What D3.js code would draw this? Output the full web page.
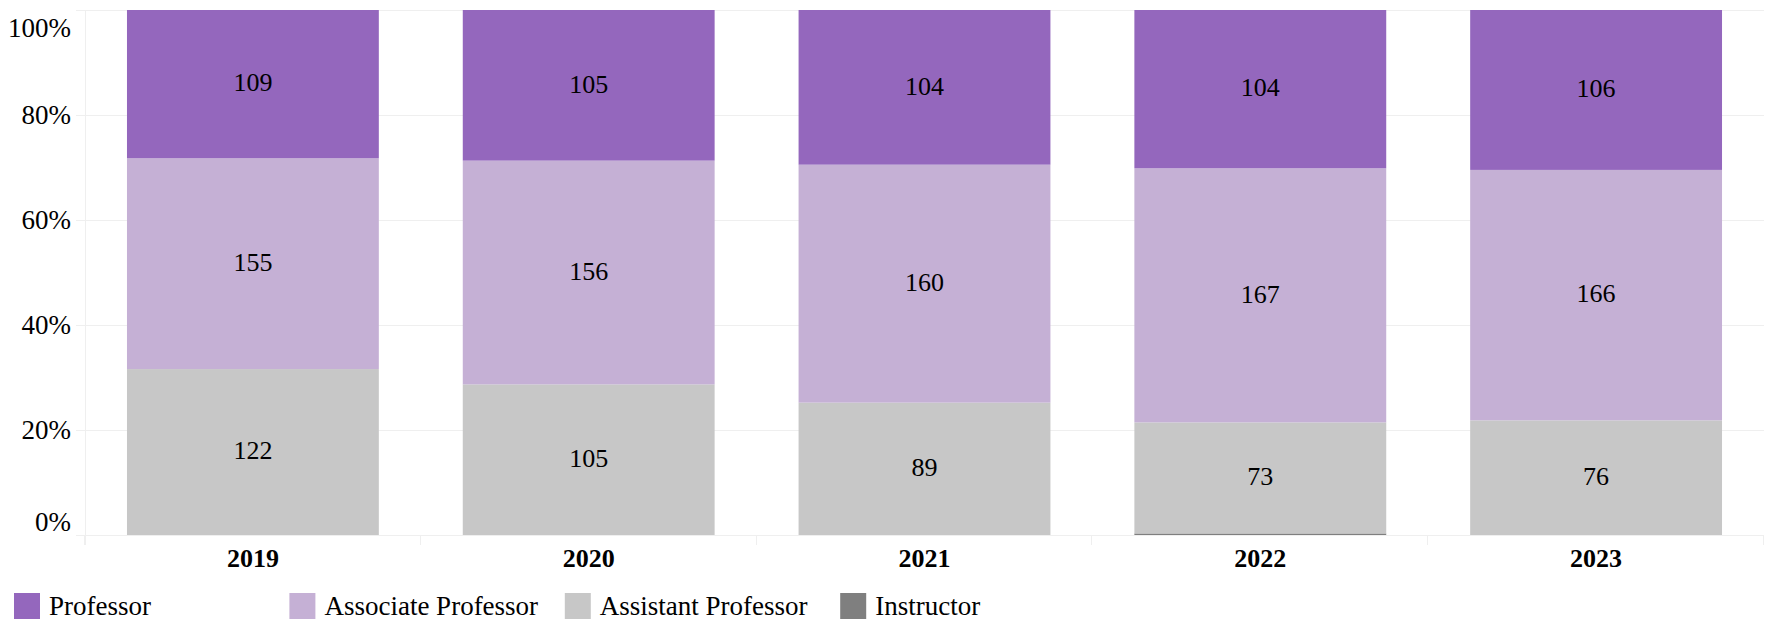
<!DOCTYPE html>
<html>
<head>
<meta charset="utf-8">
<style>
  body { margin: 0; background: #fff; }
  text { font-family: 'Liberation Serif', 'Times New Roman', serif; fill: #000; }
  .grid line { stroke: #efefef; }
</style>
</head>
<body>
<script src="https://d3js.org/d3.v7.min.js"></script>
<script>

var years = ['2019', '2020', '2021', '2022', '2023'];
var ranks = ['Professor', 'Associate Professor', 'Assistant Professor', 'Instructor'];
var professor = [109, 105, 104, 104, 106];
var associate = [155, 156, 160, 167, 166];
var assistant = [122, 105, 89, 73, 76];
var instructor = [0, 0, 0, 1, 0];
var colors = ['#9467bd', '#c5b0d5', '#c7c7c7', '#7f7f7f'];
var yTicks = [0, 0.2, 0.4, 0.6, 0.8, 1];

var width = 1769, height = 620;
var plotLeft = 85, plotRight = 1764, plotTop = 10, plotBottom = 535;

// stack order bottom -> top
var rows = years.map(function (yr, i) {
  return { year: yr, 'Professor': professor[i], 'Associate Professor': associate[i],
    'Assistant Professor': assistant[i], 'Instructor': instructor[i] };
});
var stackKeys = ['Instructor', 'Assistant Professor', 'Associate Professor', 'Professor'];
var series = d3.stack().keys(stackKeys).offset(d3.stackOffsetExpand)(rows);

var color = d3.scaleOrdinal().domain(ranks).range(colors);

var x = d3.scaleBand().domain(years).range([plotLeft, plotRight]).paddingInner(0.25).paddingOuter(0.125);
var y = d3.scaleLinear().domain([0, 1]).range([plotBottom, plotTop]);

var svg = d3.select('body').append('svg')
  .attr('width', width)
  .attr('height', height);

// horizontal gridlines
svg.append('g').attr('class', 'grid')
  .selectAll('line')
  .data(yTicks)
  .enter().append('line')
  .attr('x1', plotLeft - 9).attr('x2', plotRight)
  .attr('y1', function (d) { return Math.round(y(d)) + 0.5; })
  .attr('y2', function (d) { return Math.round(y(d)) + 0.5; });

// vertical axis line
svg.append('line')
  .attr('x1', plotLeft + 0.5).attr('x2', plotLeft + 0.5)
  .attr('y1', plotTop).attr('y2', plotBottom + 10)
  .attr('stroke', '#efefef');

// x ticks at band edges
var edges = years.map(function (d) { return x(d) - x.step() * x.paddingInner() / 2; });
edges[0] = plotLeft;
edges.push(plotRight);
svg.append('g').attr('class', 'grid')
  .selectAll('line')
  .data(edges)
  .enter().append('line')
  .attr('x1', function (d) { return Math.round(d) - 0.5; })
  .attr('x2', function (d) { return Math.round(d) - 0.5; })
  .attr('y1', plotBottom).attr('y2', plotBottom + 10);

// y tick labels
svg.append('g')
  .selectAll('text')
  .data(yTicks)
  .enter().append('text')
  .attr('x', 71)
  .attr('y', function (d) { return y(d); })
  .attr('dy', function (d) { return d === 1 ? 27 : d === 0 ? -4 : 9; })
  .attr('text-anchor', 'end')
  .style('font-size', '27px')
  .text(d3.format('.0%'));

// bars
var layer = svg.append('g')
  .selectAll('g')
  .data(series)
  .enter().append('g')
  .attr('fill', function (d) { return color(d.key); });

layer.selectAll('rect')
  .data(function (d) { return d; })
  .enter().append('rect')
  .attr('x', function (d) { return x(d.data.year); })
  .attr('width', x.bandwidth())
  .attr('y', function (d) { return y(d[1]); })
  .attr('height', function (d) { return y(d[0]) - y(d[1]); });

// value labels
series.forEach(function (s) {
  svg.append('g')
    .selectAll('text')
    .data(s.filter(function (d) { return y(d[0]) - y(d[1]) > 20; }))
    .enter().append('text')
    .attr('x', function (d) { return x(d.data.year) + x.bandwidth() / 2; })
    .attr('y', function (d) { return (y(d[0]) + y(d[1])) / 2; })
    .attr('dy', '0.28em')
    .attr('text-anchor', 'middle')
    .style('font-size', '26px')
    .text(function (d) { return d.data[s.key]; });
});

// x labels
svg.append('g')
  .selectAll('text')
  .data(years)
  .enter().append('text')
  .attr('x', function (d) { return x(d) + x.bandwidth() / 2; })
  .attr('y', 567)
  .attr('text-anchor', 'middle')
  .style('font-size', '26px')
  .style('font-weight', 'bold')
  .text(function (d) { return d; });

// legend
var legend = svg.append('g')
  .selectAll('g')
  .data(ranks)
  .enter().append('g')
  .attr('transform', function (d, i) { return 'translate(' + (14 + i * 275.4) + ',593)'; });

legend.append('rect')
  .attr('width', 26).attr('height', 26)
  .attr('fill', function (d) { return color(d); });

legend.append('text')
  .attr('x', 35).attr('y', 22)
  .style('font-size', '27px')
  .text(function (d) { return d; });

</script>
</body>
</html>
